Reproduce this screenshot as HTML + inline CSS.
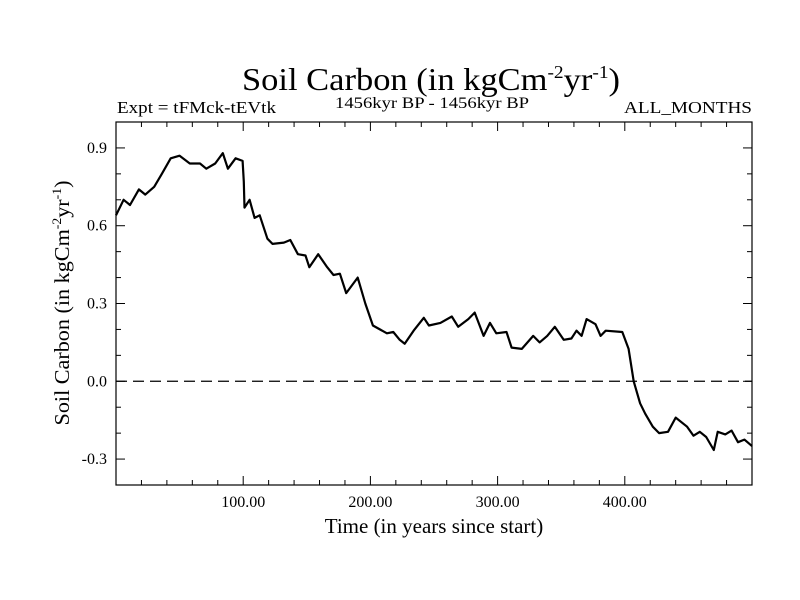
<!DOCTYPE html>
<html><head><meta charset="utf-8"><style>
body{margin:0;background:#fff}
svg{display:block;font-family:"Liberation Serif",serif}
</style></head><body>
<svg id="chart" width="800" height="600" viewBox="0 0 800 600" xmlns="http://www.w3.org/2000/svg">
<rect width="800" height="600" fill="#fff"/>
<text x="431" y="90" font-size="32" text-anchor="middle" textLength="378" lengthAdjust="spacingAndGlyphs">Soil Carbon (in kgCm<tspan font-size="18" dy="-12">-2</tspan><tspan dy="12">yr</tspan><tspan font-size="18" dy="-12">-1</tspan><tspan dy="12">)</tspan></text>
<text x="117" y="113" font-size="17" textLength="159" lengthAdjust="spacingAndGlyphs">Expt = tFMck-tEVtk</text>
<text x="432" y="108" font-size="16" text-anchor="middle" textLength="194" lengthAdjust="spacingAndGlyphs">1456kyr BP - 1456kyr BP</text>
<text x="752" y="113" font-size="17" text-anchor="end" textLength="128" lengthAdjust="spacingAndGlyphs">ALL_MONTHS</text>
<g id="axes"></g>
<text x="434" y="533" font-size="21" text-anchor="middle">Time (in years since start)</text>
<text transform="translate(69,303) rotate(-90)" font-size="21" text-anchor="middle" textLength="245" lengthAdjust="spacingAndGlyphs">Soil Carbon (in kgCm<tspan font-size="13" dy="-8">-2</tspan><tspan dy="8">yr</tspan><tspan font-size="13" dy="-8">-1</tspan><tspan dy="8">)</tspan></text>
</svg>
<script>
const years=[0,6,11,18,23,30,36,43,50,58,66,71,78,84,88,94,99.5,100.5,101,105,109,113,119,123,132,137,143,149,152,159,166,171,176,181,190,196,202,213,218,223,227,234,242,246,255,264,269,277,282,289,294,299,307,311,319,328,333,339,345,352,358,362,366,370,377,381,385,398,403,407,412,416,422,427,434,440,449,454,459,464,470,473,479,484,489,494,500];
const soilCarbon=[0.64,0.70,0.68,0.74,0.72,0.75,0.80,0.86,0.87,0.84,0.84,0.82,0.84,0.88,0.82,0.86,0.85,0.77,0.67,0.70,0.63,0.64,0.55,0.53,0.535,0.545,0.49,0.485,0.44,0.49,0.44,0.41,0.415,0.34,0.40,0.30,0.215,0.185,0.19,0.16,0.145,0.195,0.245,0.215,0.225,0.25,0.21,0.24,0.265,0.175,0.225,0.185,0.19,0.13,0.125,0.175,0.15,0.175,0.21,0.16,0.165,0.195,0.175,0.24,0.22,0.175,0.195,0.19,0.125,0.0,-0.085,-0.125,-0.175,-0.20,-0.195,-0.14,-0.175,-0.21,-0.195,-0.215,-0.265,-0.195,-0.205,-0.19,-0.235,-0.225,-0.25];
const xTickValues=[100,200,300,400];
const xTickLabels=["100.00","200.00","300.00","400.00"];
const yTickValues=[0.9,0.6,0.3,0.0,-0.3];
const yTickLabels=["0.9","0.6","0.3","0.0","-0.3"];
const xMin=0,xMax=500,yMin=-0.4,yMax=1.0;
const L=116,R=752,T=122,B=485;
const sx=v=>L+(v-xMin)/(xMax-xMin)*(R-L);
const sy=v=>B-(v-yMin)/(yMax-yMin)*(B-T);
const NS="http://www.w3.org/2000/svg";
const g=document.getElementById('axes');
function mk(tag,attrs){const e=document.createElementNS(NS,tag);for(const k in attrs)e.setAttribute(k,attrs[k]);g.appendChild(e);return e;}
let z=mk('line',{x1:L,x2:R,y1:sy(0),y2:sy(0),stroke:'#000','stroke-width':1.2,'stroke-dasharray':'11,6'});


for(let v=20;v<xMax;v+=20){const big=v%100===0;const len=big?9:5;
 mk('line',{x1:sx(v),x2:sx(v),y1:B,y2:B-len,stroke:'#000','stroke-width':1});
 mk('line',{x1:sx(v),x2:sx(v),y1:T,y2:T+len,stroke:'#000','stroke-width':1});}
for(let i=-3;i<=9;i++){const v=i/10;const big=i%3===0;const len=big?9:5;
 mk('line',{x1:L,x2:L+len,y1:sy(v),y2:sy(v),stroke:'#000','stroke-width':1});
 mk('line',{x1:R,x2:R-len,y1:sy(v),y2:sy(v),stroke:'#000','stroke-width':1});}
xTickValues.forEach((v,i)=>{const t=mk('text',{x:sx(v),y:B+22,'font-size':16,'text-anchor':'middle'});t.textContent=xTickLabels[i];
 
 });
yTickValues.forEach((v,i)=>{const t=mk('text',{x:L-9,y:sy(v)+5,'font-size':16,'text-anchor':'end'});t.textContent=yTickLabels[i];
 
 });
const fr=mk('rect',{x:L,y:T,width:R-L,height:B-T,fill:'none',stroke:'#000','stroke-width':1.2});


const d=years.map((y,i)=>(i?'L':'M')+sx(y).toFixed(1)+','+sy(soilCarbon[i]).toFixed(1)).join('');
const p=mk('path',{d:d,fill:'none',stroke:'#000','stroke-width':2.2,'stroke-linejoin':'round'});


</script>
</body></html>
